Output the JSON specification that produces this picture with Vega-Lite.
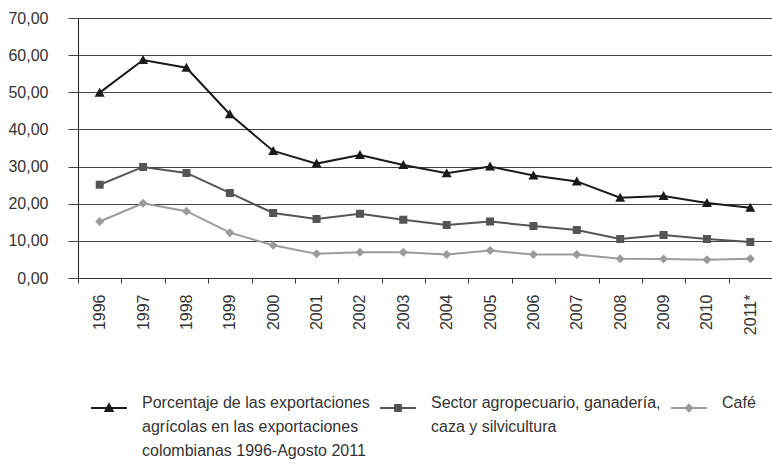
{
  "$schema": "https://vega.github.io/schema/vega-lite/v6.json",
  "width": 694,
  "height": 260,
  "autosize": {"type": "none"},
  "padding": {"left": 78, "top": 18, "right": 0, "bottom": 190},
  "background": "white",
  "config": {
    "view": {"stroke": null},
    "font": "Liberation Sans",
    "style": {"guide-label": {"lineHeight": 24}},
    "legend": {
      "orient": "none",
      "legendX": 12,
      "legendY": 371,
      "direction": "horizontal",
      "columns": 3,
      "labelFontSize": 16,
      "labelColor": "#333333",
      "labelLimit": 400,
      "labelOffset": 14,
      "columnPadding": 6,
      "symbolSize": 1296,
      "symbolStrokeWidth": 2,
      "labelBaseline": "alphabetic"
    }
  },
  "datasets": {
    "d": [
      {"year": "1996", "series": "Porcentaje de las exportaciones agrícolas en las exportaciones colombianas 1996-Agosto 2011", "value": 49.9},
      {"year": "1997", "series": "Porcentaje de las exportaciones agrícolas en las exportaciones colombianas 1996-Agosto 2011", "value": 58.7},
      {"year": "1998", "series": "Porcentaje de las exportaciones agrícolas en las exportaciones colombianas 1996-Agosto 2011", "value": 56.6},
      {"year": "1999", "series": "Porcentaje de las exportaciones agrícolas en las exportaciones colombianas 1996-Agosto 2011", "value": 44.1},
      {"year": "2000", "series": "Porcentaje de las exportaciones agrícolas en las exportaciones colombianas 1996-Agosto 2011", "value": 34.2},
      {"year": "2001", "series": "Porcentaje de las exportaciones agrícolas en las exportaciones colombianas 1996-Agosto 2011", "value": 30.8},
      {"year": "2002", "series": "Porcentaje de las exportaciones agrícolas en las exportaciones colombianas 1996-Agosto 2011", "value": 33.1},
      {"year": "2003", "series": "Porcentaje de las exportaciones agrícolas en las exportaciones colombianas 1996-Agosto 2011", "value": 30.4},
      {"year": "2004", "series": "Porcentaje de las exportaciones agrícolas en las exportaciones colombianas 1996-Agosto 2011", "value": 28.2},
      {"year": "2005", "series": "Porcentaje de las exportaciones agrícolas en las exportaciones colombianas 1996-Agosto 2011", "value": 30.0},
      {"year": "2006", "series": "Porcentaje de las exportaciones agrícolas en las exportaciones colombianas 1996-Agosto 2011", "value": 27.6},
      {"year": "2007", "series": "Porcentaje de las exportaciones agrícolas en las exportaciones colombianas 1996-Agosto 2011", "value": 26.0},
      {"year": "2008", "series": "Porcentaje de las exportaciones agrícolas en las exportaciones colombianas 1996-Agosto 2011", "value": 21.6},
      {"year": "2009", "series": "Porcentaje de las exportaciones agrícolas en las exportaciones colombianas 1996-Agosto 2011", "value": 22.1},
      {"year": "2010", "series": "Porcentaje de las exportaciones agrícolas en las exportaciones colombianas 1996-Agosto 2011", "value": 20.2},
      {"year": "2011*", "series": "Porcentaje de las exportaciones agrícolas en las exportaciones colombianas 1996-Agosto 2011", "value": 18.9},
      {"year": "1996", "series": "Sector agropecuario, ganadería, caza y silvicultura", "value": 25.1},
      {"year": "1997", "series": "Sector agropecuario, ganadería, caza y silvicultura", "value": 29.9},
      {"year": "1998", "series": "Sector agropecuario, ganadería, caza y silvicultura", "value": 28.3},
      {"year": "1999", "series": "Sector agropecuario, ganadería, caza y silvicultura", "value": 22.9},
      {"year": "2000", "series": "Sector agropecuario, ganadería, caza y silvicultura", "value": 17.5},
      {"year": "2001", "series": "Sector agropecuario, ganadería, caza y silvicultura", "value": 15.9},
      {"year": "2002", "series": "Sector agropecuario, ganadería, caza y silvicultura", "value": 17.3},
      {"year": "2003", "series": "Sector agropecuario, ganadería, caza y silvicultura", "value": 15.7},
      {"year": "2004", "series": "Sector agropecuario, ganadería, caza y silvicultura", "value": 14.3},
      {"year": "2005", "series": "Sector agropecuario, ganadería, caza y silvicultura", "value": 15.2},
      {"year": "2006", "series": "Sector agropecuario, ganadería, caza y silvicultura", "value": 14.0},
      {"year": "2007", "series": "Sector agropecuario, ganadería, caza y silvicultura", "value": 12.9},
      {"year": "2008", "series": "Sector agropecuario, ganadería, caza y silvicultura", "value": 10.5},
      {"year": "2009", "series": "Sector agropecuario, ganadería, caza y silvicultura", "value": 11.6},
      {"year": "2010", "series": "Sector agropecuario, ganadería, caza y silvicultura", "value": 10.5},
      {"year": "2011*", "series": "Sector agropecuario, ganadería, caza y silvicultura", "value": 9.7},
      {"year": "1996", "series": "Café", "value": 15.2},
      {"year": "1997", "series": "Café", "value": 20.1},
      {"year": "1998", "series": "Café", "value": 18.0},
      {"year": "1999", "series": "Café", "value": 12.2},
      {"year": "2000", "series": "Café", "value": 8.8},
      {"year": "2001", "series": "Café", "value": 6.5},
      {"year": "2002", "series": "Café", "value": 6.9},
      {"year": "2003", "series": "Café", "value": 6.9},
      {"year": "2004", "series": "Café", "value": 6.3},
      {"year": "2005", "series": "Café", "value": 7.4},
      {"year": "2006", "series": "Café", "value": 6.3},
      {"year": "2007", "series": "Café", "value": 6.3},
      {"year": "2008", "series": "Café", "value": 5.2},
      {"year": "2009", "series": "Café", "value": 5.1},
      {"year": "2010", "series": "Café", "value": 4.9},
      {"year": "2011*", "series": "Café", "value": 5.2}
    ]
  },
  "data": {"name": "d"},
  "encoding": {
    "x": {
      "field": "year",
      "type": "ordinal",
      "sort": null,
      "bandPosition": 0.5,
      "scale": {"type": "band", "paddingInner": 0, "paddingOuter": 0},
      "axis": {
        "title": null,
        "labelAngle": -90,
        "labelAlign": "right",
        "labelBaseline": "middle",
        "labelFontSize": 16,
        "labelColor": "#333333",
        "labelPadding": 11,
        "tickSize": 5,
        "tickBand": "extent",
        "tickColor": "#333333",
        "domainColor": "#333333",
        "grid": false
      }
    },
    "y": {
      "field": "value",
      "type": "quantitative",
      "scale": {"domain": [0, 70], "nice": false},
      "axis": {
        "title": null,
        "values": [0, 10, 20, 30, 40, 50, 60, 70],
        "labelExpr": "replace(format(datum.value, '.2f'), '.', ',')",
        "labelFontSize": 16,
        "labelColor": "#333333",
        "labelPadding": 20,
        "tickSize": 10,
        "tickColor": "#444444",
        "grid": true,
        "gridColor": "#444444",
        "gridOpacity": 1,
        "domainColor": "#222222"
      }
    }
  },
  "layer": [
    {
      "mark": {"type": "line", "strokeWidth": 2},
      "encoding": {
        "stroke": {
          "field": "series",
          "type": "nominal",
          "sort": null,
          "scale": {
            "domain": [
              "Porcentaje de las exportaciones agrícolas en las exportaciones colombianas 1996-Agosto 2011",
              "Sector agropecuario, ganadería, caza y silvicultura",
              "Café"
            ],
            "range": ["#1a1a1a", "#555555", "#9b9b9b"]
          },
          "legend": {
            "title": null,
            "labelExpr": "datum.label == 'Café' ? ['Café', ' ', ' '] : (indexof(datum.label, 'Porcentaje') == 0 ? ['Porcentaje de las exportaciones', 'agrícolas en las exportaciones', 'colombianas 1996-Agosto 2011'] : ['Sector agropecuario, ganadería,', 'caza y silvicultura', ' '])"
          }
        }
      }
    },
    {
      "mark": {"type": "point", "filled": true, "opacity": 1, "size": 2500},
      "encoding": {
        "fill": {
          "field": "series",
          "type": "nominal",
          "sort": null,
          "scale": {
            "domain": [
              "Porcentaje de las exportaciones agrícolas en las exportaciones colombianas 1996-Agosto 2011",
              "Sector agropecuario, ganadería, caza y silvicultura",
              "Café"
            ],
            "range": ["#1a1a1a", "#555555", "#9b9b9b"]
          },
          "legend": {
            "title": null,
            "labelExpr": "datum.label == 'Café' ? ['Café', ' ', ' '] : (indexof(datum.label, 'Porcentaje') == 0 ? ['Porcentaje de las exportaciones', 'agrícolas en las exportaciones', 'colombianas 1996-Agosto 2011'] : ['Sector agropecuario, ganadería,', 'caza y silvicultura', ' '])"
          }
        },
        "shape": {
          "field": "series",
          "type": "nominal",
          "sort": null,
          "scale": {
            "domain": [
              "Porcentaje de las exportaciones agrícolas en las exportaciones colombianas 1996-Agosto 2011",
              "Sector agropecuario, ganadería, caza y silvicultura",
              "Café"
            ],
            "range": [
              "M-1,0H1M-0.2,0.16L0,-0.2L0.2,0.16Z",
              "M-1,0H1M-0.16,-0.16H0.16V0.16H-0.16Z",
              "M-1,0H1M0,-0.18L0.18,0L0,0.18L-0.18,0Z"
            ]
          },
          "legend": {
            "title": null,
            "labelExpr": "datum.label == 'Café' ? ['Café', ' ', ' '] : (indexof(datum.label, 'Porcentaje') == 0 ? ['Porcentaje de las exportaciones', 'agrícolas en las exportaciones', 'colombianas 1996-Agosto 2011'] : ['Sector agropecuario, ganadería,', 'caza y silvicultura', ' '])"
          }
        }
      }
    }
  ]
}
